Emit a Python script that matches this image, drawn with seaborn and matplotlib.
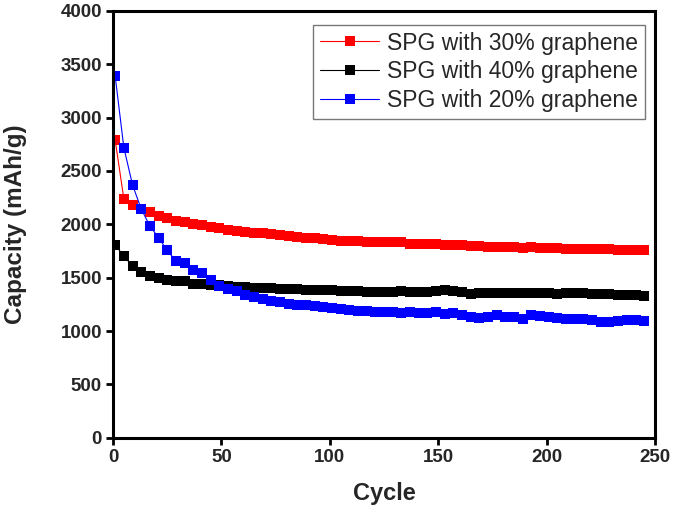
import numpy as np
import pandas as pd
import seaborn as sns
import matplotlib
matplotlib.use("Agg")
import matplotlib.pyplot as plt

# =========================================
# DATA
# =========================================

cycles = list(range(1, 246, 4))

cap_30 = [
    2790, 2240, 2185, 2145, 2115, 2080, 2060, 2035, 2020, 2000,
    1990, 1975, 1965, 1950, 1940, 1930, 1920, 1915, 1905, 1900,
    1890, 1885, 1875, 1870, 1860, 1850, 1845, 1840, 1840, 1835,
    1835, 1835, 1835, 1830, 1820, 1815, 1815, 1815, 1810, 1810,
    1805, 1800, 1795, 1790, 1790, 1790, 1785, 1780, 1790, 1780,
    1775, 1775, 1765, 1765, 1765, 1765, 1765, 1765, 1760, 1760,
    1760, 1755,
]

cap_40 = [
    1810, 1700, 1610, 1555, 1520, 1500, 1480, 1465, 1470, 1445,
    1440, 1430, 1430, 1420, 1415, 1410, 1405, 1400, 1400, 1395,
    1390, 1390, 1385, 1385, 1380, 1380, 1375, 1375, 1375, 1370,
    1370, 1370, 1370, 1375, 1370, 1365, 1370, 1375, 1380, 1375,
    1365, 1350, 1355, 1360, 1355, 1360, 1355, 1355, 1360, 1355,
    1355, 1350, 1355, 1360, 1360, 1350, 1345, 1350, 1340, 1340,
    1335, 1325,
]

cap_20 = [
    3390, 2720, 2370, 2145, 1985, 1875, 1755, 1660, 1640, 1570,
    1545, 1480, 1425, 1395, 1375, 1340, 1315, 1300, 1285, 1275,
    1255, 1245, 1245, 1235, 1225, 1220, 1205, 1195, 1190, 1185,
    1180, 1180, 1175, 1170, 1180, 1165, 1170, 1175, 1160, 1170,
    1150, 1135, 1125, 1135, 1150, 1130, 1130, 1115, 1150, 1140,
    1130, 1125, 1115, 1110, 1110, 1105, 1080, 1085, 1090, 1100,
    1105, 1095,
]

series_labels = [
    "SPG with 30% graphene",
    "SPG with 40% graphene",
    "SPG with 20% graphene",
]
series_colors = ["#ff0000", "#000000", "#0000ff"]

x_ticks = [0, 50, 100, 150, 200, 250]
y_ticks = [0, 500, 1000, 1500, 2000, 2500, 3000, 3500, 4000]

# =========================================
# STYLE
# =========================================

sns.set_style("ticks")
plt.rcParams["font.family"] = ["Liberation Sans", "DejaVu Sans"]

fig = plt.figure(figsize=(6.75, 5.08), dpi=100)
ax = fig.add_axes([0.1674, 0.1384, 0.8030, 0.8400])

# =========================================
# PLOT
# =========================================

for vals, label, color in zip([cap_30, cap_40, cap_20], series_labels, series_colors):
    df = pd.DataFrame({"Cycle": cycles, "Capacity": vals})
    sns.lineplot(
        data=df,
        x="Cycle",
        y="Capacity",
        ax=ax,
        color=color,
        linewidth=0.8,
        marker="s",
        markersize=6.5,
        markeredgewidth=0,
        label=label,
    )

ax.set_xlim(0, 250)
ax.set_ylim(0, 4000)
ax.set_xticks(x_ticks)
ax.set_yticks(y_ticks)

ax.set_xlabel("Cycle", fontsize=17, fontweight="bold", labelpad=12)
ax.set_ylabel("Capacity (mAh/g)", fontsize=17.5, fontweight="bold", labelpad=24)

for lbl in ax.get_xticklabels() + ax.get_yticklabels():
    lbl.set_fontweight("bold")
ax.tick_params(axis="both", direction="out", length=5, width=2, labelsize=13.5, pad=3, color="black")

for side in ["left", "right", "top", "bottom"]:
    ax.spines[side].set_visible(True)
    ax.spines[side].set_linewidth(2.2)
    ax.spines[side].set_color("black")

leg = ax.legend(
    loc="upper right",
    bbox_to_anchor=(0.982, 0.968),
    borderaxespad=0,
    fontsize=16.5,
    frameon=True,
    fancybox=False,
    handlelength=2.6,
    handletextpad=0.35,
    labelspacing=0.25,
    borderpad=0.3,
)
leg.get_frame().set_edgecolor("#777777")
leg.get_frame().set_linewidth(1.0)
leg.get_frame().set_alpha(1)

fig.savefig("out.png", dpi=100)
